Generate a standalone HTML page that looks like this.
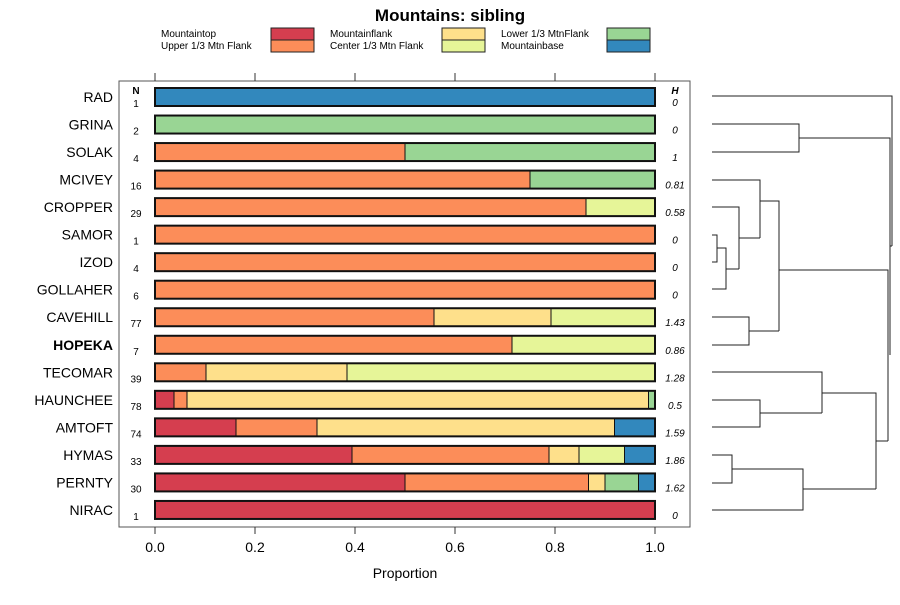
<!DOCTYPE html>
<html><head><meta charset="utf-8"><style>
body{margin:0;background:#fff}
svg text{font-family:"Liberation Sans",sans-serif}
</style></head><body>
<svg id="chart" width="900" height="600" viewBox="0 0 900 600" xmlns="http://www.w3.org/2000/svg">
<text x="450" y="21" text-anchor="middle" font-size="17" font-weight="bold">Mountains: sibling</text>
<g id="legend"></g>
<rect x="119" y="81" width="571" height="446" fill="none" stroke="#555" stroke-width="1"/>
<g id="bars"></g>
<g id="axis"></g>
<text x="405" y="578" text-anchor="middle" font-size="14">Proportion</text>
<text x="136" y="94" text-anchor="middle" font-size="10" font-weight="bold">N</text>
<text x="675" y="94" text-anchor="middle" font-size="10" font-weight="bold" font-style="italic">H</text>
<g id="dendro" fill="none" stroke="#222" stroke-width="1"></g>
</svg>
<script>
const categories = ["RAD","GRINA","SOLAK","MCIVEY","CROPPER","SAMOR","IZOD","GOLLAHER","CAVEHILL","HOPEKA","TECOMAR","HAUNCHEE","AMTOFT","HYMAS","PERNTY","NIRAC"];
const seriesNames = ["Mountaintop","Upper 1/3 Mtn Flank","Mountainflank","Center 1/3 Mtn Flank","Lower 1/3 MtnFlank","Mountainbase"];
const seriesColors = ["#D53E4F","#FC8D59","#FEE08B","#E6F598","#99D594","#3288BD"];
const mountaintop = [0,0,0,0,0,0,0,0,0,0,0,0.038,0.162,0.394,0.5,1];
const upperFlank  = [0,0,0.5,0.75,0.862,1,1,1,0.558,0.714,0.102,0.026,0.162,0.394,0.367,0];
const mountainflank=[0,0,0,0,0,0,0,0,0.234,0,0.282,0.923,0.595,0.06,0.033,0];
const centerFlank = [0,0,0,0,0.138,0,0,0,0.208,0.286,0.616,0,0,0.091,0,0];
const lowerFlank  = [0,1,0.5,0.25,0,0,0,0,0,0,0,0.013,0,0,0.067,0];
const mountainbase= [1,0,0,0,0,0,0,0,0,0,0,0,0.081,0.061,0.033,0];
const nValues = ["1","2","4","16","29","1","4","6","77","7","39","78","74","33","30","1"];
const hValues = ["0","0","1","0.81","0.58","0","0","0","1.43","0.86","1.28","0.5","1.59","1.86","1.62","0"];
const xTicks = [0,0.2,0.4,0.6,0.8,1.0];
const xTickLabels = ["0.0","0.2","0.4","0.6","0.8","1.0"];
const series = [mountaintop,upperFlank,mountainflank,centerFlank,lowerFlank,mountainbase];

const NS="http://www.w3.org/2000/svg";
const xS = v => 155 + v*500;
const yS = i => 97 + i*27.53;
function mk(tag, attrs, parent){const e=document.createElementNS(NS,tag);for(const k in attrs)e.setAttribute(k,attrs[k]);parent.appendChild(e);return e;}

const lg=document.getElementById('legend');
const lx=[161,330,501], bx=[271,442,607];
seriesNames.forEach((n,i)=>{
  const c=Math.floor(i/2), r=i%2;
  const t=mk('text',{x:lx[c],y:37+r*12,'font-size':10},lg); t.textContent=n;
  
  
  const b=mk('rect',{x:bx[c],y:28+r*12,width:43,height:12,fill:seriesColors[i],stroke:'#222','stroke-width':1},lg);
  
  
});

const bg=document.getElementById('bars');
categories.forEach((cat,i)=>{
  const y=yS(i);
  const lab=mk('text',{x:113,y:y+5,'text-anchor':'end','font-size':14,'font-weight':cat==='HOPEKA'?'bold':'normal'},bg);
  lab.textContent=cat;
  
  
  let acc=0;
  series.forEach((s,k)=>{
    const v=s[i]; if(v<=0) return;
    const r=mk('rect',{x:xS(acc),y:y-9,width:xS(acc+v)-xS(acc),height:18,fill:seriesColors[k],stroke:'#111','stroke-width':1},bg);
    
    
    acc+=v;
  });
  const o=mk('rect',{x:xS(0),y:y-9,width:xS(acc)-xS(0),height:18,fill:'none',stroke:'#111','stroke-width':2},bg);
  
  
  const n=mk('text',{x:136,y:y+10,'text-anchor':'middle','font-size':10},bg); n.textContent=nValues[i];
  
  
  const h=mk('text',{x:675,y:y+9,'text-anchor':'middle','font-size':10,'font-style':'italic'},bg); h.textContent=hValues[i];
  
  
});

const ax=document.getElementById('axis');
xTicks.forEach((t,i)=>{
  mk('line',{x1:xS(t),x2:xS(t),y1:527,y2:534,stroke:'#333'},ax);
  mk('line',{x1:xS(t),x2:xS(t),y1:73,y2:81,stroke:'#333'},ax);
  const l=mk('text',{x:xS(t),y:552,'text-anchor':'middle','font-size':14},ax); l.textContent=xTickLabels[i];
  
  
});

const dg=document.getElementById('dendro');
const segs=[
 "M712 96H892V246","M712 124H799V152H712","M799 138H890V355",
 "M712 180H760V238","M712 207H739V269","M712 235H717V262H712","M717 248H726V289H712",
 "M726 269H739","M739 238H760","M760 201H779V331","M712 317H749V345H712","M749 331H779",
 "M779 270H888V441","M712 372H822V413","M712 400H760V427H712","M760 413H822",
 "M822 393H876V489","M712 455H732V483H712","M732 469H803V510H712","M803 489H876","M876 441H888","M890 246H892"
];
segs.forEach(d=>{const p=mk('path',{d:d},dg);
  
  });
</script>
</body></html>
